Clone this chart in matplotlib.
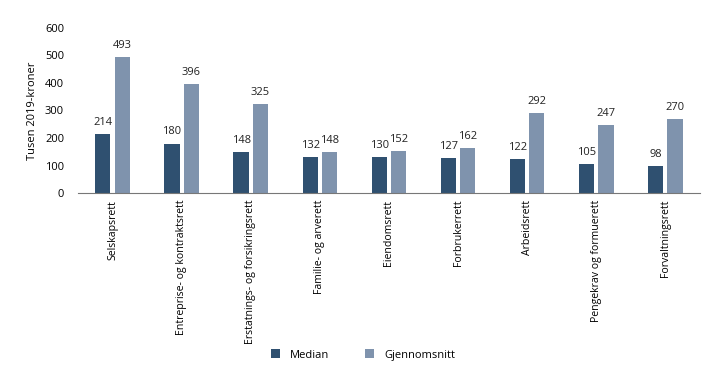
import numpy as np
import matplotlib.pyplot as plt

plt.rcParams['font.family'] = ['Open Sans', 'DejaVu Sans']

categories = ["Selskapsrett", "Entreprise- og kontraktsrett", "Erstatnings- og forsikringsrett",
              "Familie- og arverett", "Eiendomsrett", "Forbrukerrett", "Arbeidsrett",
              "Pengekrav og formuerett", "Forvaltningsrett"]
median = [214, 180, 148, 132, 130, 127, 122, 105, 98]
mean = [493, 396, 325, 148, 152, 162, 292, 247, 270]

c_med = "#2f5070"
c_mean = "#7f93ad"

fig = plt.figure(figsize=(7.19, 3.83), dpi=100)
ax = fig.add_axes([0.1085, 0.496, 0.865, 0.431])

x = np.arange(len(categories))
w = 0.22
b1 = ax.bar(x - 0.14, median, w, color=c_med, label="Median")
b2 = ax.bar(x + 0.14, mean, w, color=c_mean, label="Gjennomsnitt")

for bars, vals in ((b1, median), (b2, mean)):
    for r, v in zip(bars, vals):
        ax.text(r.get_x() + r.get_width() / 2, v + 22, str(v), ha="center", va="bottom",
                fontsize=8, color="#222222")

ax.set_xlim(-0.5, len(categories) - 0.5)
ax.set_ylim(0, 600)
ax.set_yticks(range(0, 601, 100))
ax.set_xticks(x)
ax.set_xticklabels(categories, rotation=90, fontsize=7.6)
ax.tick_params(axis="y", length=0, labelsize=8, pad=10)
ax.tick_params(axis="x", length=0, pad=5)
for s in ("top", "right", "left"):
    ax.spines[s].set_visible(False)
ax.spines["bottom"].set_color("#777777")
ax.set_ylabel("Tusen 2019-kroner", fontsize=8, labelpad=5)

fig.legend(handles=[b1, b2], loc="center", bbox_to_anchor=(0.505, 0.073), ncol=2, frameon=False,
           fontsize=8, handlelength=0.8, handleheight=0.8, columnspacing=3.2, handletextpad=0.9)

fig.savefig("out.png", dpi=100)
